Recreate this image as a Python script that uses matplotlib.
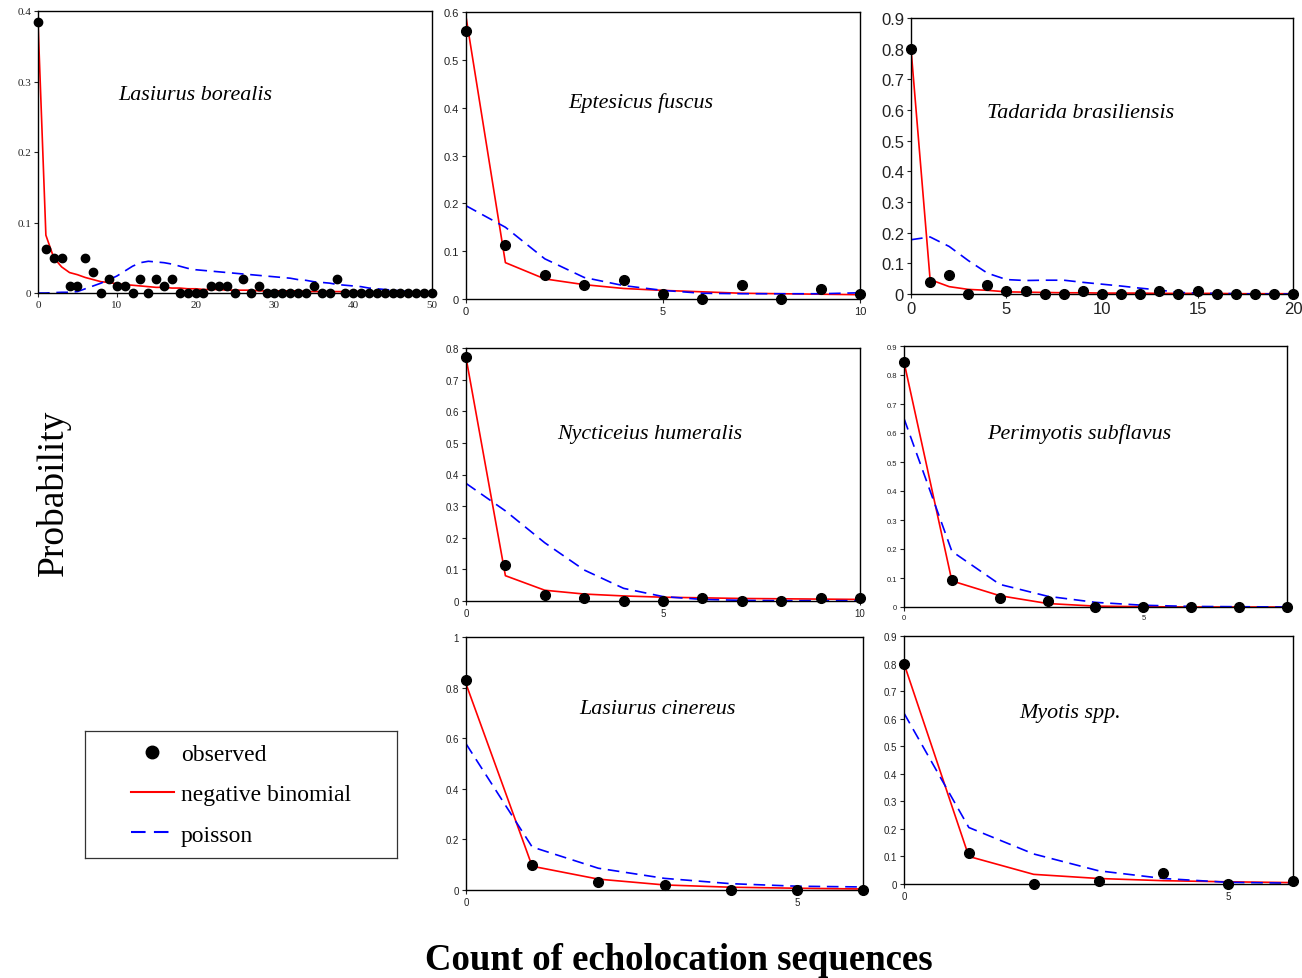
"""Observed vs fitted count distributions of echolocation sequences, 7 bat taxa
(negative binomial vs poisson), laid out like the original Excel composite."""
import matplotlib
matplotlib.use("Agg")
import matplotlib.pyplot as plt
from matplotlib.lines import Line2D

W, H = 1302, 979

# ---- data ---------------------------------------------------------------
lb_obs = [0.385, 0.062, 0.05, 0.05, 0.01, 0.01, 0.05, 0.03, 0, 0.02, 0.01, 0.01, 0,
          0.02, 0, 0.02, 0.01, 0.02, 0, 0, 0, 0, 0.01, 0.01, 0.01, 0, 0.02, 0, 0.01,
          0, 0, 0, 0, 0, 0, 0.01, 0, 0, 0.02, 0, 0, 0, 0, 0, 0, 0, 0, 0, 0, 0, 0]
lb_nb = [0.385, 0.082, 0.050, 0.037, 0.029, 0.026, 0.022, 0.019, 0.016, 0.015, 0.013,
         0.012, 0.011, 0.010, 0.009, 0.008, 0.008, 0.007, 0.007, 0.006, 0.006, 0.005,
         0.005, 0.005, 0.004, 0.004, 0.004, 0.004, 0.003, 0.003, 0.003, 0.003, 0.003,
         0.003, 0.002, 0.002, 0.002, 0.002, 0.002, 0.002, 0.002, 0.002, 0.001, 0.001,
         0.001, 0.001, 0.001, 0.001, 0.001, 0.001, 0.001]
lb_poi = [0, 0, 0.0005, 0.001, 0.001, 0.002, 0.006, 0.010, 0.014, 0.019, 0.024, 0.031,
          0.038, 0.043, 0.045, 0.044, 0.043, 0.041, 0.038, 0.035, 0.033, 0.032, 0.031,
          0.030, 0.029, 0.028, 0.027, 0.026, 0.025, 0.024, 0.023, 0.022, 0.021, 0.019,
          0.018, 0.016, 0.015, 0.014, 0.012, 0.011, 0.010, 0.009, 0.007, 0.006, 0.005,
          0.004, 0.003, 0.002, 0.002, 0.001, 0.001]

ef_obs = [0.56, 0.113, 0.05, 0.03, 0.04, 0.01, 0, 0.03, 0, 0.02, 0.01]
ef_nb = [0.59, 0.076, 0.042, 0.030, 0.022, 0.018, 0.015, 0.012, 0.011, 0.010, 0.009]
ef_poi = [0.195, 0.15, 0.084, 0.045, 0.028, 0.018, 0.012, 0.011, 0.011, 0.011, 0.013]

tb_obs = [0.80, 0.04, 0.062, 0, 0.03, 0.01, 0.01, 0, 0, 0.01, 0, 0, 0, 0.01, 0, 0.01,
          0, 0, 0, 0, 0]
tb_nb = [0.80, 0.047, 0.024, 0.015, 0.012, 0.007, 0.006, 0.005, 0.004, 0.004, 0.003,
         0.003, 0.003, 0.002, 0.002, 0.002, 0.002, 0.001, 0.001, 0.001, 0.001]
tb_poi = [0.177, 0.186, 0.155, 0.109, 0.068, 0.047, 0.044, 0.045, 0.045, 0.038, 0.032,
          0.026, 0.019, 0.013, 0.005, 0.003, 0.002, 0.001, 0, 0, 0]

nh_obs = [0.77, 0.115, 0.02, 0.01, 0, 0, 0.01, 0, 0, 0.01, 0.01]
nh_nb = [0.77, 0.08, 0.034, 0.022, 0.016, 0.012, 0.010, 0.008, 0.007, 0.006, 0.005]
nh_poi = [0.372, 0.285, 0.184, 0.098, 0.040, 0.014, 0.005, 0.002, 0.001, 0.001, 0.001]

ps_obs = [0.845, 0.093, 0.031, 0.02, 0, 0, 0, 0, 0]
ps_nb = [0.845, 0.09, 0.039, 0.012, 0.003, 0.001, 0, 0, 0]
ps_poi = [0.65, 0.192, 0.078, 0.037, 0.016, 0.006, 0.002, 0.001, 0]

lc_obs = [0.83, 0.10, 0.03, 0.02, 0, 0, 0]
lc_nb = [0.815, 0.094, 0.043, 0.02, 0.011, 0.007, 0.004]
lc_poi = [0.578, 0.17, 0.086, 0.046, 0.025, 0.015, 0.012]

my_obs = [0.80, 0.113, 0, 0.01, 0.04, 0, 0.01]
my_nb = [0.80, 0.10, 0.035, 0.02, 0.012, 0.008, 0.005]
my_poi = [0.62, 0.205, 0.109, 0.048, 0.02, 0.006, 0.003]

# (name, obs, nb, poisson, ymax, ytick step, xticks, axes px box, tick font size,
#  tick font family, label centre px, marker size)
PANELS = [
    ("Lasiurus borealis", lb_obs, lb_nb, lb_poi, 0.4, 0.1, [0, 10, 20, 30, 40, 50],
     (38, 12, 432, 294), 8, "Liberation Serif", (195, 96), 6),
    ("Eptesicus fuscus", ef_obs, ef_nb, ef_poi, 0.6, 0.1, [0, 5, 10],
     (466, 13, 860, 300), 8, "Liberation Sans", (641, 103), 7),
    ("Tadarida brasiliensis", tb_obs, tb_nb, tb_poi, 0.9, 0.1, [0, 5, 10, 15, 20],
     (911, 19, 1293, 295), 12, "Liberation Sans", (1081, 114), 7),
    ("Nycticeius humeralis", nh_obs, nh_nb, nh_poi, 0.8, 0.1, [0, 5, 10],
     (466, 349, 860, 602), 7, "Liberation Sans", (650, 434), 7),
    ("Perimyotis subflavus", ps_obs, ps_nb, ps_poi, 0.9, 0.1, [0, 5],
     (904, 347, 1287, 608), 5.5, "Liberation Sans", (1079, 434), 7),
    ("Lasiurus cinereus", lc_obs, lc_nb, lc_poi, 1.0, 0.2, [0, 5],
     (466, 638, 863, 891), 7, "Liberation Sans", (658, 710), 7),
    ("Myotis spp.", my_obs, my_nb, my_poi, 0.9, 0.1, [0, 5],
     (904, 637, 1293, 885), 7, "Liberation Sans", (1070, 714), 7),
]

DASH = (0, (7, 4))


def fbox(l, t, r, b):
    return [l / W, 1 - b / H, (r - l) / W, (b - t) / H]


def main():
    fig = plt.figure(figsize=(W / 100, H / 100), dpi=100)
    for name, obs, nb, poi, ymax, step, xt, box, fs, fam, lab, ms in PANELS:
        ax = fig.add_axes(fbox(*box))
        x = list(range(len(obs)))
        ax.plot(x, nb, color="red", lw=1.2, zorder=2)
        ax.plot(x, poi, color="blue", lw=1.2, ls=DASH, zorder=2)
        ax.plot(x, obs, "o", color="black", ms=ms, zorder=3, clip_on=False)
        ax.set_xlim(0, len(obs) - 1)
        ax.set_ylim(0, ymax)
        n = int(round(ymax / step))
        yt = [round(i * step, 2) for i in range(n + 1)]
        ax.set_yticks(yt)
        ax.set_yticklabels([f"{v:g}" for v in yt], family=fam, fontsize=fs)
        ax.set_xticks(xt)
        ax.set_xticklabels([str(v) for v in xt], family=fam, fontsize=fs)
        ax.tick_params(direction="out", length=3, width=0.8, pad=2, colors="#222222")
        for s in ax.spines.values():
            s.set_linewidth(1.0)
            s.set_color("black")
        fig.text(lab[0] / W, 1 - lab[1] / H, name, ha="center", va="center",
                 family="Liberation Serif", style="italic", fontsize=15.8)

    fig.text(53 / W, 1 - 493 / H, "Probability", rotation=90, ha="center",
             va="center", family="Liberation Serif", fontsize=27)
    fig.text(679 / W, 1 - 961 / H, "Count of echolocation sequences", ha="center",
             va="center", family="Liberation Serif", weight="bold", fontsize=26.5)

    # legend sits in its own boxed axes, like the Excel legend
    lax = fig.add_axes(fbox(85, 732, 397, 859))
    lax.set_xticks([])
    lax.set_yticks([])
    for s in lax.spines.values():
        s.set_linewidth(0.9)
        s.set_color("#333333")
    handles = [
        Line2D([], [], ls="none", marker="o", color="black", ms=9),
        Line2D([], [], color="red", lw=1.5),
        Line2D([], [], color="blue", lw=1.5, ls=DASH),
    ]
    lax.legend(handles, ["observed", "negative binomial", "poisson"],
               loc="center", prop={"family": "Liberation Serif", "size": 17},
               frameon=False, handlelength=1.8, handletextpad=0.3,
               labelspacing=0.8, borderpad=0.2)
    fig.savefig("out.png", dpi=100)


if __name__ == "__main__":
    main()
